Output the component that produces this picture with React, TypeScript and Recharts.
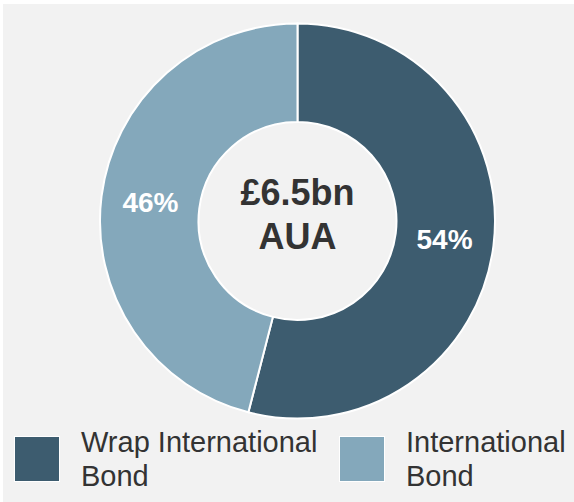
import React from 'react';
import { PieChart, Pie, Cell, Legend } from 'recharts';

const categories = ['Wrap International Bond', 'International Bond'];
const shares = [54, 46];
const colors = ['#3d5c6f', '#84a8bb'];
const centerLines = ['£6.5bn', 'AUA'];

const data = categories.map((name, i) => ({ name, value: shares[i] }));

const FONT = '"Liberation Sans", Arial, Helvetica, sans-serif';
const RADIAN = Math.PI / 180;

const CX = 294.5;
const CY = 217;

const renderPct = (props: any) => {
  const { cx, cy, midAngle, innerRadius, outerRadius, value } = props;
  const r = (innerRadius + outerRadius) / 2;
  const x = cx + r * Math.cos(-midAngle * RADIAN);
  const y = cy + r * Math.sin(-midAngle * RADIAN);
  return (
    <text
      x={x}
      y={y}
      fill="#ffffff"
      textAnchor="middle"
      dominantBaseline="central"
      fontFamily={FONT}
      fontWeight="bold"
      fontSize={28}
    >
      {value}%
    </text>
  );
};

const legendLeft = [11, 336];

const renderLegend = () => (
  <div style={{ position: 'relative', width: 571, height: 76, fontFamily: FONT }}>
    {categories.map((name, i) => {
      const words = name.split(' ');
      const last = words.pop();
      return (
        <div key={name} style={{ position: 'absolute', left: legendLeft[i], top: 0, display: 'flex' }}>
          <div
            style={{
              width: 44,
              height: 44,
              marginTop: 11,
              background: colors[i],
              border: '1px solid #ffffff',
            }}
          />
          <div
            style={{
              marginLeft: 21,
              fontSize: 29,
              lineHeight: '34px',
              color: '#333333',
              whiteSpace: 'nowrap',
            }}
          >
            <div>{words.join(' ')}</div>
            <div>{last}</div>
          </div>
        </div>
      );
    })}
  </div>
);

export default function App() {
  return (
    <div style={{ position: 'absolute', left: 3, top: 4, width: 571, height: 498, background: '#f2f2f2' }}>
      <PieChart width={571} height={498} margin={{ top: 0, right: 0, bottom: 0, left: 0 }}>
        <Pie
          data={data}
          dataKey="value"
          nameKey="name"
          cx={CX}
          cy={CY}
          innerRadius={99}
          outerRadius={197.5}
          startAngle={90}
          endAngle={-270}
          stroke="#ffffff"
          strokeWidth={2}
          label={renderPct}
          labelLine={false}
          isAnimationActive={false}
        >
          {data.map((d, i) => (
            <Cell key={d.name} fill={colors[i]} />
          ))}
        </Pie>
        <Legend
          content={renderLegend}
          wrapperStyle={{ position: 'absolute', left: 0, top: 421, width: 571 }}
        />
      </PieChart>
      <div
        style={{
          position: 'absolute',
          left: CX - 100,
          top: CY - 50,
          width: 200,
          textAlign: 'center',
          fontFamily: FONT,
          fontWeight: 'bold',
          fontSize: 36,
          lineHeight: '44px',
          color: '#333333',
          pointerEvents: 'none',
        }}
      >
        <div>{centerLines[0]}</div>
        <div>{centerLines[1]}</div>
      </div>
    </div>
  );
}
